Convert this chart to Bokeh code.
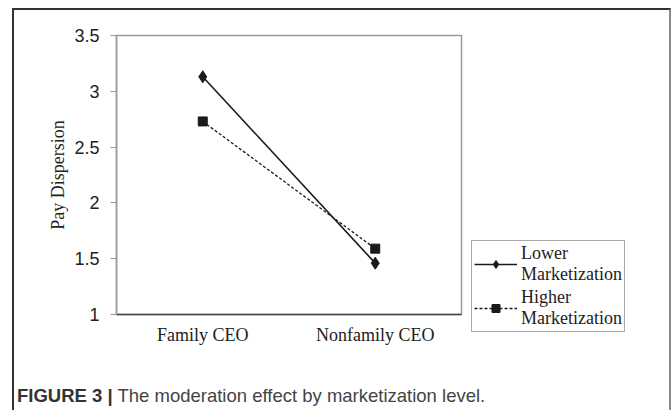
from bokeh.plotting import figure
from bokeh.models import (Legend, LegendItem, Range1d, FactorRange, FixedTicker,
                          ColumnDataSource, Div, Plot)
from bokeh.layouts import column, row
from bokeh.embed import file_html
from bokeh.resources import INLINE

categories = ["Family CEO", "Nonfamily CEO"]
lower_vals = [3.13, 1.46]
higher_vals = [2.73, 1.59]
y_ticks = [1, 1.5, 2, 2.5, 3, 3.5]
series_names = ["Lower\nMarketization", "Higher\nMarketization"]

H = 360
p = figure(width=456, height=H, x_range=FactorRange(*categories), y_range=Range1d(1, 3.5),
           output_backend="svg", toolbar_location=None,
           min_border_left=102, min_border_top=25, min_border_right=9, min_border_bottom=H - 304)
p.xgrid.visible = False
p.ygrid.visible = False
p.outline_line_color = "#9a9a9a"
p.outline_line_width = 1.5
p.x_range.range_padding = 0

src_l = ColumnDataSource(dict(x=categories, y=lower_vals))
src_h = ColumnDataSource(dict(x=categories, y=higher_vals))
line_kw_l = dict(line_color="#1a1a1a", line_width=1.6)
line_kw_h = dict(line_color="#1a1a1a", line_width=1.3, line_dash="3 2")
mk_l = dict(marker="diamond", size=12, color="#1a1a1a")
mk_h = dict(marker="square", size=9, color="#1a1a1a")
p.line("x", "y", source=src_l, **line_kw_l)
p.scatter("x", "y", source=src_l, **mk_l)
p.line("x", "y", source=src_h, **line_kw_h)
p.scatter("x", "y", source=src_h, **mk_h)

ya = p.yaxis[0]
ya.ticker = FixedTicker(ticks=y_ticks)
ya.major_label_overrides = {1: "1", 1.5: "1.5", 2: "2", 2.5: "2.5", 3: "3", 3.5: "3.5"}
ya.axis_line_color = "#9a9a9a"
ya.axis_line_width = 1.5
ya.major_tick_line_color = "#9a9a9a"
ya.major_tick_in = 0
ya.major_tick_out = 6
ya.minor_tick_line_color = None
ya.major_label_text_font = "Liberation Sans"
ya.major_label_text_font_size = "18px"
ya.major_label_text_color = "#222222"
ya.major_label_standoff = 11
ya.axis_label = "Pay Dispersion"
ya.axis_label_text_font = "Liberation Serif"
ya.axis_label_text_font_style = "normal"
ya.axis_label_text_font_size = "18px"
ya.axis_label_text_color = "#222222"
ya.axis_label_standoff = 3

xa = p.xaxis[0]
xa.axis_line_color = "#444444"
xa.axis_line_width = 1.5
xa.major_tick_line_color = None
xa.minor_tick_line_color = None
xa.major_label_text_font = "Liberation Serif"
xa.major_label_text_font_size = "18px"
xa.major_label_text_color = "#222222"
xa.major_label_standoff = 4

# legend panel to the right of the chart; its proxy renderers use the same
# series but sit outside this panel's visible range, so only the legend shows
has_frame_align = "frame_align" in Plot.properties()
lf_kw = dict(frame_align=False) if has_frame_align else {}
lf = figure(width=199, height=H, x_range=FactorRange(*categories), y_range=Range1d(10, 11),
            output_backend="svg", toolbar_location=None,
            x_axis_location=None, y_axis_location=None,
            min_border_left=0, min_border_right=0, min_border_top=0, min_border_bottom=0,
            **lf_kw)
lf.xgrid.visible = False
lf.ygrid.visible = False
lf.outline_line_color = None
r1 = lf.line("x", "y", source=src_l, **line_kw_l)
r1m = lf.scatter("x", "y", source=src_l, **mk_l)
r2 = lf.line("x", "y", source=src_h, **line_kw_h)
r2m = lf.scatter("x", "y", source=src_h, **mk_h)

legend = Legend(items=[LegendItem(label=series_names[0], renderers=[r1, r1m]),
                       LegendItem(label=series_names[1], renderers=[r2, r2m])],
                location=(1, 38) if has_frame_align else (1, 1))
legend.label_text_font = "Liberation Serif"
legend.label_text_font_size = "18px"
legend.label_text_color = "#222222"
legend.label_text_line_height = 1.14
legend.glyph_width = 43
legend.glyph_height = 20
legend.label_standoff = 4
legend.padding = 2
legend.spacing = 2
legend.margin = 0
legend.border_line_color = "#555555"
legend.border_line_width = 1.2
legend.background_fill_alpha = 1
lf.add_layout(legend, "center")

cap = Div(text='<b style="color:#333">FIGURE 3 |</b> The moderation effect by marketization level.',
          width=650, height=40, margin=0,
          styles={"font-family": "Liberation Sans", "font-size": "18.5px", "color": "#444",
                  "padding-left": "3px", "padding-top": "13px"})

lay = column(row(p, lf), cap,
             styles={"border-left": "2px solid #333", "border-top": "2px solid #333",
                     "border-right": "2px solid #888", "margin-left": "12px",
                     "margin-top": "8px"})

open("out.html", "w").write(file_html(lay, INLINE))
